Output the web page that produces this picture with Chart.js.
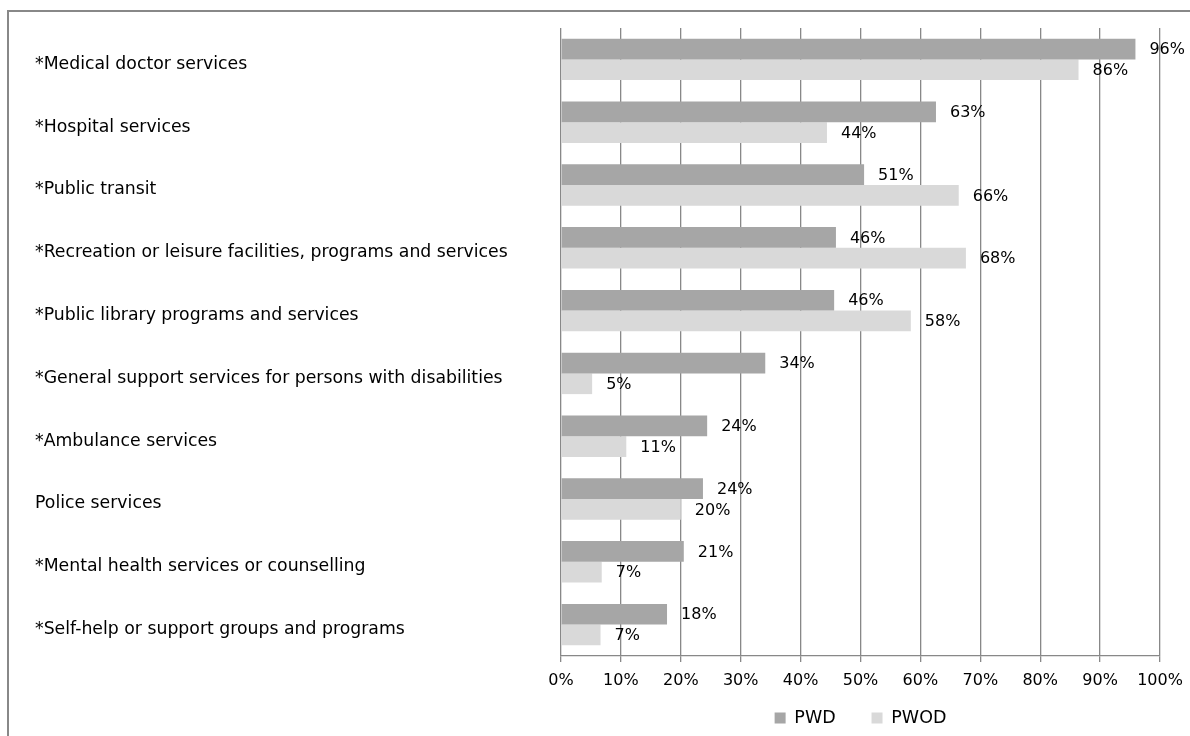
<!DOCTYPE html>
<html lang="en">
<head>
    <meta charset="UTF-8">
    <title>Services used: PWD vs PWOD</title>
    <style>
        html, body {
            margin: 0;
            padding: 0;
            background: #fff;
            overflow: hidden;
        }
        .wrap {
            position: relative;
            width: 1190px;
            height: 736px;
        }
        .frame {
            position: absolute;
            left: 7px;
            top: 10px;
            width: 1300px;
            height: 900px;
            border-left: 2px solid #888;
            border-top: 2px solid #888;
            pointer-events: none;
        }
        canvas {
            position: absolute;
            left: 0;
            top: 0;
        }
    </style>
    <script src="https://cdn.jsdelivr.net/npm/chart.js@4"></script>
</head>
<body>
    <div class="wrap">
        <canvas id="chart" width="1190" height="736"></canvas>
        <div class="frame"></div>
    </div>

    <script>
        const categories = [
            "*Medical doctor services",
            "*Hospital services",
            "*Public transit",
            "*Recreation or leisure facilities, programs and services",
            "*Public library programs and services",
            "*General support services for persons with disabilities",
            "*Ambulance services",
            "Police services",
            "*Mental health services or counselling",
            "*Self-help or support groups and programs"
        ];
        const pwd = [95.9, 62.6, 50.6, 45.9, 45.6, 34.1, 24.4, 23.7, 20.5, 17.7];
        const pwod = [86.4, 44.4, 66.4, 67.6, 58.4, 5.2, 10.9, 20.0, 6.8, 6.6];
        const xTicks = [0, 10, 20, 30, 40, 50, 60, 70, 80, 90, 100];

        const FONT = "'DejaVu Sans', sans-serif";
        const NUM_SIZE = 16;   // numbers: ticks and bar labels
        const TEXT_SIZE = 17.3; // category names

        // percent labels at the end of each bar
        const barLabels = {
            id: 'barLabels',
            afterDatasetsDraw(chart) {
                const ctx = chart.ctx;
                ctx.save();
                ctx.font = NUM_SIZE + "px " + FONT;
                ctx.fillStyle = "#000";
                ctx.textAlign = "left";
                ctx.textBaseline = "middle";
                chart.data.datasets.forEach((ds, i) => {
                    chart.getDatasetMeta(i).data.forEach((bar, j) => {
                        ctx.fillText(Math.round(ds.data[j]) + "%", bar.x + 14, bar.y + 1);
                    });
                });
                ctx.restore();
            }
        };

        const ctx = document.getElementById("chart").getContext("2d");
        new Chart(ctx, {
            type: 'bar',
            data: {
                labels: categories,
                datasets: [
                    {
                        label: 'PWD',
                        data: pwd,
                        backgroundColor: '#a6a6a6',
                        categoryPercentage: 0.66,
                        barPercentage: 1.0
                    },
                    {
                        label: 'PWOD',
                        data: pwod,
                        backgroundColor: '#d9d9d9',
                        categoryPercentage: 0.66,
                        barPercentage: 1.0
                    }
                ]
            },
            options: {
                indexAxis: 'y',
                responsive: false,
                animation: false,
                layout: {
                    padding: { left: 35, right: 30, top: 28, bottom: -0.75 }
                },
                scales: {
                    x: {
                        min: 0,
                        max: 100,
                        afterBuildTicks: (scale) => {
                            scale.ticks = xTicks.map(v => ({ value: v }));
                        },
                        afterFit: (scale) => {
                            scale.height = 45.25;
                            // "100%" may hang into the right margin
                            scale.paddingRight = 0;
                            scale.paddingLeft = 0;
                        },
                        grid: {
                            color: '#888',
                            lineWidth: 1.3,
                            drawTicks: true,
                            tickLength: 6,
                            tickColor: '#888'
                        },
                        border: { display: true, color: '#888', width: 1.3 },
                        ticks: {
                            color: '#000',
                            font: { family: FONT, size: NUM_SIZE },
                            padding: 9,
                            maxRotation: 0,
                            callback: (v) => v + '%'
                        }
                    },
                    y: {
                        grid: { display: false },
                        border: { display: false },
                        afterFit: (scale) => { scale.width = 526; },
                        ticks: {
                            color: '#000',
                            crossAlign: 'far',
                            labelOffset: 5,
                            font: { family: FONT, size: TEXT_SIZE }
                        }
                    }
                },
                plugins: {
                    tooltip: { enabled: false },
                    legend: {
                        position: 'bottom',
                        fullSize: false,
                        labels: {
                            boxWidth: 11,
                            boxHeight: 11,
                            padding: 8,
                            color: '#000',
                            font: { family: FONT, size: 17.5 },
                            generateLabels: (chart) => {
                                const items = Chart.defaults.plugins.legend.labels.generateLabels(chart);
                                // wider gap between the two legend entries
                                items[0].text = items[0].text + '\u00a0\u00a0\u00a0\u00a0\u00a0';
                                items.forEach(it => { it.lineWidth = 0; });
                                return items;
                            }
                        }
                    }
                }
            },
            plugins: [barLabels]
        });
    </script>
</body>
</html>
